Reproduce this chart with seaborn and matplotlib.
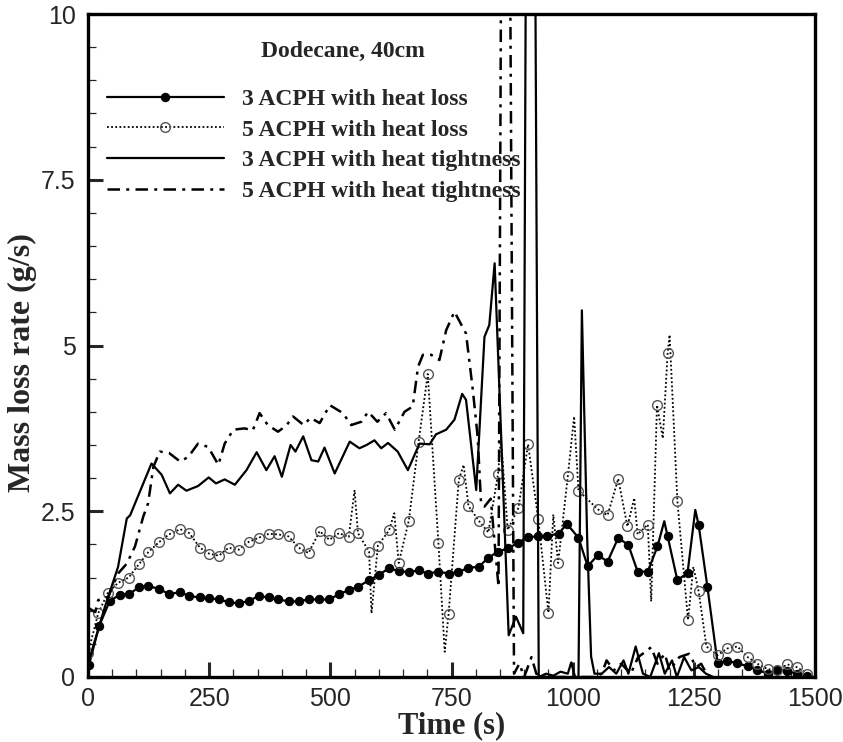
import matplotlib
matplotlib.use("Agg")
import matplotlib.pyplot as plt
from matplotlib.ticker import MultipleLocator
import seaborn as sns
import pandas as pd

sns.set_style("ticks")
plt.rcParams["font.family"] = ["Liberation Sans", "DejaVu Sans"]

# 3 ACPH with heat loss (solid + filled circles)
a_time = [2, 23, 45, 66, 85, 106, 124, 147, 167, 190, 209, 231, 250, 270, 290, 311, 332, 352, 373, 393,
          414, 435, 455, 476, 498, 518, 538, 557, 580, 600, 621, 641, 662, 682, 701, 723, 744, 764, 785, 806,
          826, 846, 866, 887, 907, 928, 948, 971, 988, 1012, 1031, 1052, 1072, 1094, 1115, 1134, 1155, 1175,
          1189, 1196, 1216, 1237, 1253, 1260, 1278, 1299, 1319, 1340, 1361, 1381, 1402, 1422, 1443, 1463, 1484]
a_rate = [0.18, 0.77, 1.15, 1.24, 1.25, 1.36, 1.37, 1.33, 1.25, 1.28, 1.22, 1.20, 1.19, 1.17, 1.13, 1.11, 1.15, 1.22, 1.20, 1.17,
          1.14, 1.14, 1.17, 1.17, 1.17, 1.25, 1.31, 1.36, 1.46, 1.54, 1.64, 1.60, 1.58, 1.61, 1.56, 1.59, 1.56, 1.58, 1.65, 1.66,
          1.80, 1.89, 1.94, 2.02, 2.11, 2.12, 2.13, 2.16, 2.31, 2.10, 1.67, 1.84, 1.74, 2.10, 1.99, 1.59, 1.59, 1.97,
          2.35, 2.12, 1.46, 1.57, 2.52, 2.29, 1.36, 0.21, 0.24, 0.21, 0.16, 0.11, 0.05, 0.11, 0.09, 0.05, 0.02]
a_unmarked = [1189, 1253]

# 5 ACPH with heat loss (dotted + open circles), circles at sampled points
b_time = [0, 21, 41, 62, 84, 105, 124, 146, 167, 190, 209, 231, 250, 270, 290, 311, 332, 352, 373, 393,
          414, 435, 455, 478, 498, 518, 538, 557, 580, 598, 621, 641, 662, 682, 701, 723, 744, 765, 785, 806,
          826, 846, 866, 888, 908, 929, 950, 970, 990, 1012, 1052, 1072, 1094, 1113, 1134, 1155, 1174, 1196,
          1216, 1238, 1260, 1276, 1299, 1319, 1340, 1361, 1381, 1402, 1422, 1443, 1462, 1484]
b_rate = [0.36, 0.96, 1.27, 1.42, 1.50, 1.70, 1.88, 2.03, 2.15, 2.23, 2.17, 1.95, 1.86, 1.83, 1.95, 1.92, 2.04, 2.10, 2.16, 2.15,
          2.12, 1.95, 1.87, 2.20, 2.07, 2.17, 2.11, 2.17, 1.89, 1.98, 2.21, 1.72, 2.36, 3.54, 4.57, 2.02, 0.95, 2.97, 2.58, 2.36,
          2.18, 3.06, 2.22, 2.55, 3.51, 2.38, 0.97, 1.72, 3.03, 2.81, 2.53, 2.44, 2.99, 2.27, 2.15, 2.30, 4.10, 4.89,
          2.66, 0.86, 1.29, 0.46, 0.33, 0.43, 0.46, 0.30, 0.20, 0.12, 0.10, 0.19, 0.15, 0.05]
# fluctuations of the dotted curve between circles
b_spike_time = [550, 585, 632, 736, 775, 852, 960, 1003, 1127, 1162, 1186, 1200, 1249]
b_spike_rate = [2.82, 0.96, 2.47, 0.38, 3.20, 3.60, 2.45, 3.93, 2.70, 1.14, 3.60, 5.16, 1.66]

# 3 ACPH with heat tightness (solid)
c_time = [2, 35, 62, 80, 87, 131, 152, 169, 186, 203, 227, 249, 264, 282, 303, 327, 348, 368, 385, 400,
          418, 428, 444, 461, 475, 488, 509, 540, 560, 575, 591, 605, 619, 639, 660, 684, 705, 718, 739, 756,
          772, 780, 801, 818, 828, 839, 868, 883, 898, 904, 922, 930, 945, 960, 975, 990, 997, 1005, 1012,
          1019, 1030, 1038, 1045, 1060, 1075, 1090, 1105, 1115, 1130, 1145, 1160, 1178, 1190, 1205, 1215,
          1230, 1245, 1260, 1275, 1290]
c_rate = [0.25, 1.06, 1.66, 2.39, 2.44, 3.22, 3.05, 2.77, 2.90, 2.81, 2.88, 3.01, 2.92, 2.98, 2.90, 3.12, 3.39, 3.12, 3.33, 3.02,
          3.50, 3.40, 3.63, 3.27, 3.25, 3.46, 3.07, 3.55, 3.45, 3.50, 3.57, 3.45, 3.53, 3.40, 3.12, 3.52, 3.51, 3.66, 3.73, 3.88,
          4.27, 4.18, 2.82, 5.13, 5.31, 6.24, 0.63, 0.91, 0.66, 12.0, 12.0, 0.0, 0.05, 0.02, 0.08, 0.05, 0.22, 0.0, 0.0,
          5.53, 2.07, 0.31, 0.05, 0.05, 0.15, 0.05, 0.25, 0.05, 0.46, 0.05, 0.0, 0.36, 0.05, 0.25, 0.0,
          0.30, 0.10, 0.15, 0.05, 0.0]

# 5 ACPH with heat tightness (dash-dot)
d_time = [1, 15, 21, 42, 62, 80, 97, 114, 124, 135, 148, 167, 190, 207, 227, 248, 269, 282, 300, 323,
          340, 354, 371, 392, 409, 423, 445, 459, 478, 499, 526, 543, 564, 578, 597, 615, 633, 653, 670, 681,
          691, 708, 725, 739, 756, 780, 794, 804, 811, 818, 831, 847, 853, 870, 879, 890, 900, 915, 925,
          945, 980, 1045, 1060, 1070, 1085, 1100, 1120, 1135, 1150, 1162, 1175, 1190, 1200, 1220, 1240,
          1255, 1265, 1280]
d_rate = [1.04, 0.98, 1.16, 1.21, 1.56, 1.71, 1.97, 2.42, 2.62, 3.17, 3.40, 3.38, 3.25, 3.32, 3.52, 3.47, 3.20, 3.52, 3.73, 3.75,
          3.72, 3.98, 3.80, 3.70, 3.79, 3.93, 3.80, 3.91, 3.83, 4.10, 3.98, 3.80, 3.85, 4.00, 3.85, 3.98, 3.73, 4.00, 4.08, 4.68,
          4.86, 4.86, 4.78, 5.23, 5.51, 5.18, 4.33, 3.62, 2.62, 2.57, 2.69, 1.36, 12.0, 12.0, 0.05, 0.20, 0.0, 0.30, 0.05,
          0.0, 0.0, 0.0, 0.05, 0.25, 0.10, 0.20, 0.05, 0.30, 0.38, 0.45, 0.20, 0.35, 0.10, 0.30, 0.35,
          0.15, 0.20, 0.0]

labels = ["3 ACPH with heat loss", "5 ACPH with heat loss",
          "3 ACPH with heat tightness", "5 ACPH with heat tightness"]

df_a = pd.DataFrame({"t": a_time, "r": a_rate}).sort_values("t").reset_index(drop=True)
a_marks = [i for i, t in enumerate(df_a["t"]) if t not in a_unmarked]

df_b = pd.concat([pd.DataFrame({"t": b_time, "r": b_rate, "m": True}),
                  pd.DataFrame({"t": b_spike_time, "r": b_spike_rate, "m": False})])
df_b = df_b.sort_values("t").reset_index(drop=True)
b_marks = list(df_b.index[df_b["m"]])

df_c = pd.DataFrame({"t": c_time, "r": c_rate})
df_d = pd.DataFrame({"t": d_time, "r": d_rate})

fig = plt.figure(figsize=(8.43, 7.42), dpi=100)
ax = fig.add_axes([88 / 843, 65 / 742, 727 / 843, 663 / 742])

sns.lineplot(data=df_a, x="t", y="r", ax=ax, color="black", lw=1.6, marker="o", ms=6,
             mfc="black", mec="black", markevery=a_marks, sort=False, label=labels[0])
sns.lineplot(data=df_b, x="t", y="r", ax=ax, color="black", lw=1.3, linestyle=(0, (1, 1.3)),
             marker="o", ms=7, mfc="none", mec="#555555", mew=1.0, markevery=b_marks,
             sort=False, label=labels[1])
sns.lineplot(data=df_c, x="t", y="r", ax=ax, color="black", lw=1.6, sort=False, label=labels[2])
sns.lineplot(data=df_d, x="t", y="r", ax=ax, color="black", lw=1.8,
             linestyle=(0, (5, 2.5, 1.2, 2.5)), sort=False, label=labels[3])

ax.set_xlim(0, 1500)
ax.set_ylim(0, 10)
ax.set_xticks([0, 250, 500, 750, 1000, 1250, 1500])
ax.set_yticks([0, 2.5, 5, 7.5, 10])
ax.set_yticklabels(["0", "2.5", "5", "7.5", "10"])
ax.xaxis.set_minor_locator(MultipleLocator(50))
ax.yaxis.set_minor_locator(MultipleLocator(0.5))
ax.tick_params(which="major", direction="in", length=11, width=2.2, labelsize=18,
               top=False, right=False, pad=7)
ax.tick_params(axis="y", which="major", pad=9)
ax.tick_params(which="minor", direction="in", length=6, width=0.9, top=False, right=False)
for sp in ax.spines.values():
    sp.set_linewidth(2.4)
    sp.set_color("black")

serif = ["Liberation Serif", "DejaVu Serif"]
ax.set_xlabel("Time (s)", fontsize=22, fontweight="bold", family=serif, labelpad=0)
ax.set_ylabel("Mass loss rate (g/s)", fontsize=23, fontweight="bold", family=serif)
ax.yaxis.set_label_coords(-0.070, 0.475)

ax.text(0.351, 0.943, "Dodecane, 40cm", transform=ax.transAxes, ha="center", va="center",
        fontsize=17, fontweight="bold", family=serif)
leg = ax.legend(loc="upper left", bbox_to_anchor=(0.0257, 0.888), frameon=False,
                prop={"family": serif, "weight": "bold", "size": 17},
                handlelength=4.95, handletextpad=0.78, labelspacing=0.39,
                borderpad=0, borderaxespad=0)

fig.savefig("out.png", dpi=100)
